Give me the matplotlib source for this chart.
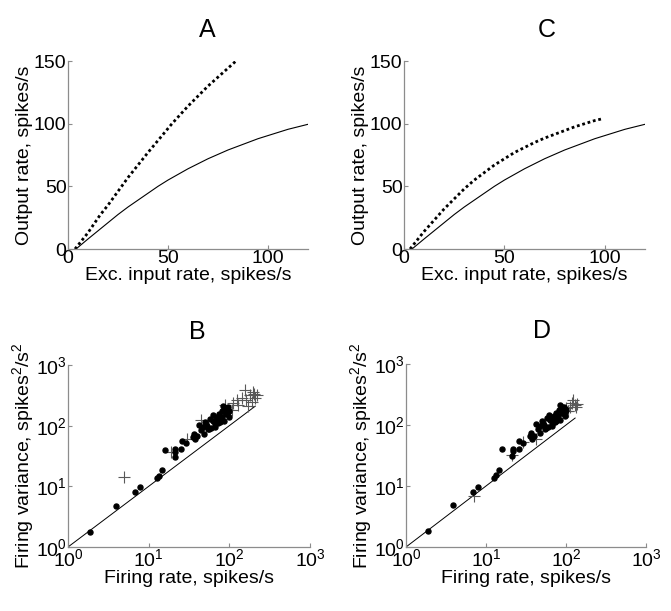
import matplotlib
matplotlib.use("Agg")
import matplotlib.pyplot as plt

plt.rcParams["font.family"] = ["Liberation Sans", "DejaVu Sans"]
plt.rcParams["mathtext.fontset"] = "custom"
plt.rcParams["mathtext.rm"] = "Liberation Sans"
plt.rcParams["mathtext.it"] = "Liberation Sans"
plt.rcParams["mathtext.default"] = "regular"

## rate curves (panels A, C)
solid_x = [4, 10, 15, 20, 25, 30, 35, 40, 45, 50, 55, 60, 65, 70, 75, 80,
           85, 90, 95, 100, 105, 110, 115, 120]
solid_y = [0, 8, 14.5, 21, 27.5, 33.5, 39, 44.5, 50, 55, 59.5, 64, 68, 72,
           75.5, 79, 82, 85, 88, 90.5, 93, 95.5, 97.5, 99.5]

dot_a_x = [3.5, 10, 16, 20, 30, 40, 52, 60, 70, 84]
dot_a_y = [0, 13, 27, 35, 57, 77, 100, 114, 130, 150]

dot_c_x = [3, 6, 10, 15, 20, 25, 30, 35, 40, 45, 50, 55, 60, 65, 70, 75,
           80, 85, 90, 95, 99]
dot_c_y = [0, 6, 14, 23, 32, 40, 48, 55, 61, 67, 72, 77, 81, 85, 88.5, 91.5,
           94.5, 97.5, 100, 102.5, 104]

## experimental data (same in B and D)
data_rate = [1.9, 3.9, 6.8, 7.9, 12.6, 13.3, 14.6, 15.8, 21, 21.5, 21.5, 25.5,
             26, 29, 35, 36, 38, 40, 42, 45, 47, 48, 50, 51, 53, 55, 56, 58,
             60, 62, 63, 66, 67, 68, 70, 72, 75, 76, 78, 80, 82, 84, 85, 88,
             89, 90, 92, 95, 96, 97, 98, 100]
data_var = [1.8, 4.8, 8.0, 9.6, 13.5, 15, 18.5, 40, 31, 41, 37, 41,
            55, 51, 65, 73, 60, 67, 104, 85, 96, 74, 115, 108, 100, 87, 88, 130,
            92, 148, 120, 96, 105, 124, 140, 110, 158, 115, 130, 140, 175, 210, 120, 185,
            195, 160, 155, 200, 180, 165, 140, 175]

## model points
model_b_rate = [4.9, 19, 29.5, 44, 84, 88, 107, 112, 123, 129, 142, 156, 161,
                180, 189, 198, 208, 218, 170, 200]
model_b_var = [14, 37, 60, 122, 170, 218, 181, 233, 264, 218, 281, 386, 264,
               319, 248, 363, 281, 319, 210, 330]

model_d_rate = [7, 21, 29, 42, 100, 105, 107, 112, 118, 123, 128, 132, 136]
model_d_var = [6.8, 32, 52, 60, 190, 170, 170, 195, 230, 260, 215, 200, 225]

line_b = [1, 210]
line_d = [1, 130]

fig = plt.figure(figsize=(6.71, 6.11), dpi=100)
W, H = 671, 611
FS = 14


def add_ax(x0, x1, y_top, y_bot):
    return fig.add_axes([x0 / W, (H - y_bot) / H, (x1 - x0) / W, (y_bot - y_top) / H])


def style(ax):
    for s in ("top", "right"):
        ax.spines[s].set_visible(False)
    for s in ("left", "bottom"):
        ax.spines[s].set_color("0.55")
        ax.spines[s].set_linewidth(0.9)
    ax.tick_params(direction="in", length=3, color="0.55", labelsize=FS, pad=1)
    ax.minorticks_off()


axA = add_ax(68, 308, 61, 249)
axC = add_ax(404, 645, 61, 249)
axB = add_ax(68, 310, 365, 547)
axD = add_ax(406, 646, 364, 547)

for ax, dx, dy in ((axA, dot_a_x, dot_a_y), (axC, dot_c_x, dot_c_y)):
    ax.plot(solid_x, solid_y, color="k", lw=0.8)
    ax.plot(dx, dy, color="k", lw=2, ls=(0, (1, 1)))
    ax.set_xlim(0, 120)
    ax.set_ylim(0, 150)
    ax.set_xticks([0, 50, 100])
    ax.set_yticks([0, 50, 100, 150])
    ax.set_xlabel("Exc. input rate, spikes/s", fontsize=FS, labelpad=0)
    ax.set_ylabel("Output rate, spikes/s", fontsize=FS, labelpad=1)
    style(ax)

for ax, mx, my, ln in ((axB, model_b_rate, model_b_var, line_b),
                       (axD, model_d_rate, model_d_var, line_d)):
    ax.set_xscale("log")
    ax.set_yscale("log")
    ax.plot(ln, ln, color="k", lw=0.7)
    ax.plot(mx, my, ls="none", marker="+", ms=9, mew=0.8, color="0.35")
    ax.plot(data_rate, data_var, ls="none", marker="o", ms=3.6, color="k")
    ax.set_xlim(1, 1000)
    ax.set_ylim(1, 1000)
    ax.set_xticks([1, 10, 100, 1000])
    ax.set_yticks([1, 10, 100, 1000])
    ax.set_xlabel("Firing rate, spikes/s", fontsize=FS, labelpad=0)
    ax.set_ylabel("Firing variance, spikes$^2$/s$^2$", fontsize=FS, labelpad=0)
    style(ax)

axA.text(0.58, 1.165, "A", transform=axA.transAxes, ha="center", va="center", fontsize=18)
axC.text(0.593, 1.165, "C", transform=axC.transAxes, ha="center", va="center", fontsize=18)
axB.text(0.533, 1.18, "B", transform=axB.transAxes, ha="center", va="center", fontsize=18)
axD.text(0.567, 1.18, "D", transform=axD.transAxes, ha="center", va="center", fontsize=18)

fig.savefig("out.png", dpi=100)
